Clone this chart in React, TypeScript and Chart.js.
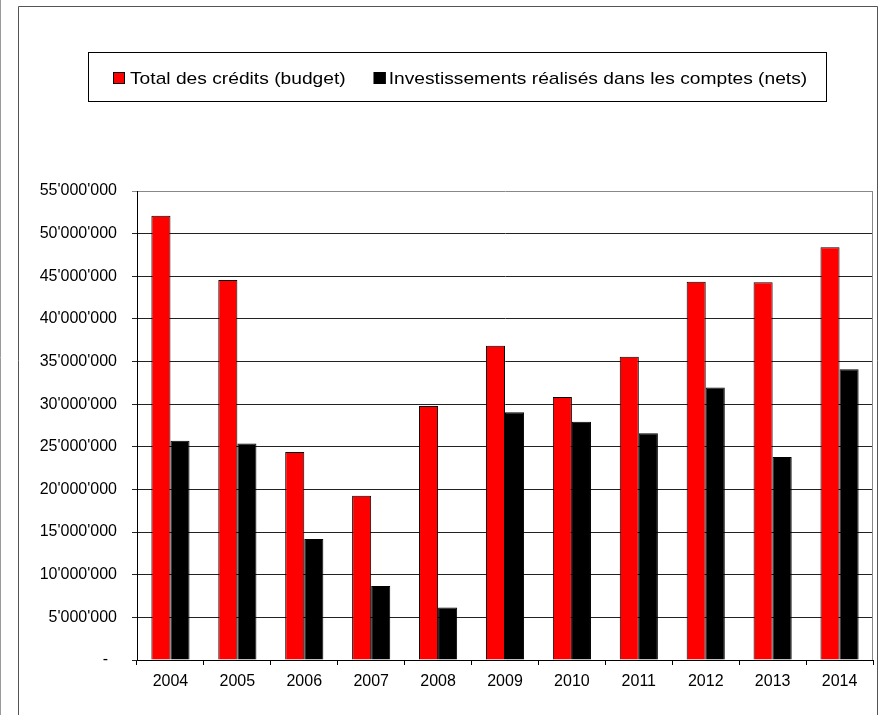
import React, { useEffect, useRef } from "react";
import { Chart, registerables } from "chart.js";

Chart.register(...registerables);

const years = ["2004", "2005", "2006", "2007", "2008", "2009", "2010", "2011", "2012", "2013", "2014"];
const budgetLabel = "Total des crédits (budget)";
const budget = [52100000, 44550000, 24400000, 19250000, 29800000, 36850000, 30850000, 35570000, 44350000, 44300000, 48400000];
const investLabel = "Investissements réalisés dans les comptes (nets)";
const invest = [25700000, 25400000, 14200000, 8670000, 6160000, 29050000, 27950000, 26600000, 31950000, 23800000, 34100000];
const yMax = 55000000;
const yStep = 5000000;

const FONT = 'Arial, "Liberation Sans", sans-serif';

function fmt(v: number): string {
  if (v === 0) return "-  ";
  return String(Math.round(v)).replace(/\B(?=(\d{3})+(?!\d))/g, "'");
}

const framePlugin = {
  id: "frame",
  beforeDraw(chart: any) {
    const ctx = chart.ctx;
    ctx.save();
    ctx.fillStyle = "#fff";
    ctx.fillRect(0, 0, chart.width, chart.height);
    ctx.lineWidth = 1;
    ctx.strokeStyle = "#9a9a9a";
    ctx.beginPath();
    ctx.moveTo(0.5, 0);
    ctx.lineTo(0.5, chart.height);
    ctx.stroke();
    ctx.strokeStyle = "#555";
    ctx.beginPath();
    ctx.moveTo(18.5, chart.height);
    ctx.lineTo(18.5, 6.5);
    ctx.lineTo(877.5, 6.5);
    ctx.lineTo(877.5, chart.height);
    ctx.stroke();
    ctx.restore();
  },
  afterDatasetsDraw(chart: any) {
    const ctx = chart.ctx;
    const a = chart.chartArea;
    ctx.save();
    ctx.strokeStyle = "#888";
    ctx.lineWidth = 1;
    ctx.beginPath();
    ctx.moveTo(Math.round(a.right) - 0.5, a.top);
    ctx.lineTo(Math.round(a.right) - 0.5, a.bottom);
    ctx.stroke();
    ctx.restore();
  },
  afterDraw(chart: any) {
    const ctx = chart.ctx;
    ctx.save();
    // legend box
    ctx.strokeStyle = "#000";
    ctx.lineWidth = 1;
    ctx.strokeRect(88.5, 52.5, 738, 49);
    ctx.font = "17px " + FONT;
    ctx.textBaseline = "alphabetic";
    const sx = 1.13;
    const items = chart.data.datasets.map((d: any) => ({ label: d.label, color: d.backgroundColor }));
    const sq = 12;
    const gapText = [5, 3];
    const gapItem = 28;
    const widths = items.map((it: any) => ctx.measureText(it.label).width * sx);
    let total = 0;
    widths.forEach((w: number, i: number) => {
      total += sq + gapText[i] + w + (i < widths.length - 1 ? gapItem : 0);
    });
    let x = Math.round(460 - total / 2);
    const sqTop = 72;
    const baseline = 84;
    items.forEach((it: any, i: number) => {
      ctx.fillStyle = it.color;
      ctx.fillRect(x, sqTop, sq, sq);
      ctx.strokeStyle = "#000";
      ctx.strokeRect(x + 0.5, sqTop + 0.5, sq - 1, sq - 1);
      ctx.fillStyle = "#000";
      const tx = x + sq + gapText[i];
      ctx.save();
      ctx.translate(tx, baseline);
      ctx.scale(sx, 1);
      ctx.fillText(it.label, 0, 0);
      ctx.restore();
      x += sq + gapText[i] + widths[i] + gapItem;
    });
    ctx.restore();
  },
};

export default function App() {
  const ref = useRef<HTMLCanvasElement | null>(null);
  useEffect(() => {
    if (!ref.current) return;
    const chart = new Chart(ref.current, {
      type: "bar",
      data: {
        labels: years,
        datasets: [
          {
            label: budgetLabel,
            data: budget,
            backgroundColor: "#ff0000",
            borderColor: "#000",
            borderWidth: 1,
            barPercentage: 1,
            categoryPercentage: 0.57,
          },
          {
            label: investLabel,
            data: invest,
            backgroundColor: "#000000",
            borderColor: "#000",
            borderWidth: 1,
            barPercentage: 1,
            categoryPercentage: 0.57,
          },
        ],
      },
      options: {
        responsive: false,
        animation: false,
        devicePixelRatio: 1,
        layout: { padding: { top: 191, right: 10, left: 0, bottom: 0 } },
        plugins: {
          legend: { display: false },
          tooltip: { enabled: false },
        },
        scales: {
          x: {
            offset: true,
            grid: {
              display: true,
              offset: true,
              drawOnChartArea: false,
              drawTicks: true,
              tickLength: 5,
              color: "#000",
            },
            border: { display: true, color: "#000", width: 1 },
            ticks: {
              color: "#000",
              padding: 7,
              font: { family: FONT, size: 16 },
              maxRotation: 0,
            },
            afterFit(scale: any) {
              scale.height = 55;
            },
          },
          y: {
            min: 0,
            max: yMax,
            grid: {
              display: true,
              drawTicks: true,
              tickLength: 5,
              color: (c: any) => (c.tick && c.tick.value === yMax ? "#888" : "#222"),
            },
            border: { display: true, color: "#000", width: 1 },
            ticks: {
              stepSize: yStep,
              color: "#000",
              padding: 15,
              font: { family: FONT, size: 16 },
              callback: (v: any) => fmt(Number(v)),
            },
            afterFit(scale: any) {
              scale.width = 137;
            },
          },
        },
      },
      plugins: [framePlugin],
    });
    return () => chart.destroy();
  }, []);
  return (
    <div style={{ position: "absolute", left: 0, top: 0, width: 883, height: 715, background: "#fff" }}>
      <canvas ref={ref} width={883} height={715} style={{ display: "block" }} />
    </div>
  );
}
